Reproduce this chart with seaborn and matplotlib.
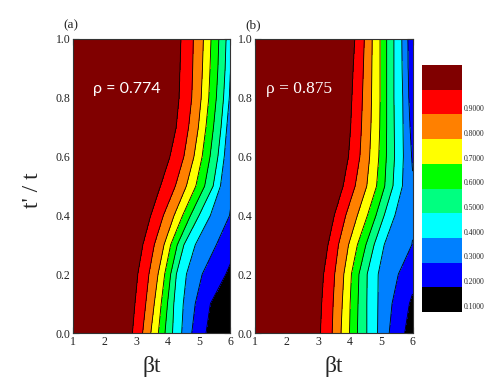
import numpy as np
import matplotlib
matplotlib.use("Agg")
import matplotlib.pyplot as plt
import seaborn as sns
from matplotlib.colors import ListedColormap, BoundaryNorm
from matplotlib.ticker import MultipleLocator

# ---------------- data ----------------
levels = [0.9, 0.8, 0.7, 0.6, 0.5, 0.4, 0.3, 0.2, 0.1]
bounds = [0.0, 0.1, 0.2, 0.3, 0.4, 0.5, 0.6, 0.7, 0.8, 0.9, 1.0]
y_rows = [0.0, 0.1, 0.2, 0.3, 0.4, 0.5, 0.6, 0.7, 0.8, 0.9, 1.0]

# panel (a): beta*t position of each contour level along the rows y_rows
a_x90 = [2.89, 2.97, 3.06, 3.22, 3.47, 3.78, 4.08, 4.28, 4.37, 4.40, 4.43]
a_x80 = [3.21, 3.31, 3.41, 3.58, 3.87, 4.25, 4.52, 4.67, 4.77, 4.80, 4.82]
a_x70 = [3.47, 3.58, 3.70, 3.89, 4.21, 4.60, 4.84, 4.98, 5.07, 5.11, 5.14]
a_x60 = [3.71, 3.80, 3.91, 4.10, 4.48, 4.90, 5.10, 5.22, 5.31, 5.35, 5.38]
a_x50 = [3.92, 4.00, 4.10, 4.31, 4.73, 5.18, 5.35, 5.46, 5.55, 5.60, 5.63]
a_x40 = [4.16, 4.20, 4.28, 4.52, 5.00, 5.45, 5.60, 5.70, 5.78, 5.83, 5.86]
a_x30 = [4.45, 4.50, 4.60, 4.88, 5.36, 5.68, 5.80, 5.88, 5.96, 6.00, 6.05]
a_x20 = [4.77, 4.88, 5.10, 5.55, 5.97, 6.10, 6.20, 6.25, 6.30, 6.35, 6.40]
a_x10 = [5.22, 5.36, 5.85, 6.25, 6.45, 6.55, 6.65, 6.70, 6.75, 6.80, 6.85]

# panel (b)
b_x90 = [3.08, 3.12, 3.18, 3.32, 3.52, 3.80, 3.97, 4.04, 4.08, 4.12, 4.17]
b_x80 = [3.45, 3.48, 3.53, 3.65, 3.88, 4.18, 4.33, 4.38, 4.41, 4.44, 4.47]
b_x70 = [3.73, 3.77, 3.82, 3.97, 4.25, 4.55, 4.64, 4.68, 4.70, 4.71, 4.72]
b_x60 = [4.00, 4.02, 4.06, 4.25, 4.57, 4.86, 4.93, 4.96, 4.97, 4.97, 4.97]
b_x50 = [4.25, 4.27, 4.30, 4.52, 4.84, 5.12, 5.17, 5.18, 5.18, 5.18, 5.18]
b_x40 = [4.55, 4.55, 4.56, 4.78, 5.10, 5.38, 5.43, 5.42, 5.41, 5.41, 5.41]
b_x30 = [4.89, 4.90, 4.91, 5.10, 5.44, 5.68, 5.71, 5.70, 5.69, 5.67, 5.66]
b_x20 = [5.26, 5.35, 5.55, 5.98, 6.10, 6.03, 5.97, 5.92, 5.88, 5.86, 5.85]
b_x10 = [5.75, 5.90, 6.20, 6.40, 6.50, 6.55, 6.60, 6.60, 6.60, 6.60, 6.60]

rho_labels = ["\u03c1 = 0.774", "\u03c1 = 0.875"]
panel_labels = ["(a)", "(b)"]
cbar_labels = ["0.9000", "0.8000", "0.7000", "0.6000", "0.5000",
               "0.4000", "0.3000", "0.2000", "0.1000"]
band_colors = ["#000000", "#0000ff", "#0080ff", "#00ffff", "#00ff80",
               "#00ff00", "#ffff00", "#ff8000", "#ff0000", "#800000"]

# ---------------- style ----------------
sns.set_style("ticks")
plt.rcParams["font.family"] = ["Liberation Serif", "DejaVu Serif"]
plt.rcParams["mathtext.fontset"] = "stix"

fig = plt.figure(figsize=(4.91, 3.92), dpi=100)
axA = fig.add_axes([73 / 491, 1 - 333 / 392, 157.5 / 491, 294 / 392])
axB = fig.add_axes([255 / 491, 1 - 333 / 392, 157.5 / 491, 294 / 392])
cax = fig.add_axes([422 / 491, 1 - 312 / 392, 40 / 491, 247 / 392])

cmap = ListedColormap(band_colors)
norm = BoundaryNorm(bounds, cmap.N)
xg = np.linspace(1.0, 6.0, 500)
yg = np.linspace(0.0, 1.0, 300)


def field(cross):
    # crossing positions on a fine row grid (piecewise linear in y)
    fine = [np.interp(yg, y_rows, c) for c in cross]
    Z = np.empty((yg.size, xg.size))
    for i in range(yg.size):
        xp = [0.0] + [f[i] for f in fine] + [8.0]
        fp = [1.0] + levels + [0.0]
        Z[i] = np.interp(xg, xp, fp)
    return Z


panels = [
    (axA, [a_x90, a_x80, a_x70, a_x60, a_x50, a_x40, a_x30, a_x20, a_x10]),
    (axB, [b_x90, b_x80, b_x70, b_x60, b_x50, b_x40, b_x30, b_x20, b_x10]),
]

for k, (ax, cross) in enumerate(panels):
    Z = field(cross)
    ax.contourf(xg, yg, Z, levels=bounds, cmap=cmap, norm=norm)
    ax.contour(xg, yg, Z, levels=sorted(levels), colors="black",
               linewidths=0.6)
    ax.set_xlim(1, 6)
    ax.set_ylim(0, 1)
    ax.xaxis.set_major_locator(MultipleLocator(1))
    ax.xaxis.set_minor_locator(MultipleLocator(0.5))
    ax.yaxis.set_major_locator(MultipleLocator(0.2))
    ax.yaxis.set_minor_locator(MultipleLocator(0.1))
    ax.yaxis.set_major_formatter(matplotlib.ticker.FormatStrFormatter("%.1f"))
    ax.tick_params(which="both", direction="in", top=True, right=True,
                   length=4, width=0.8, labelsize=8.5, pad=2,
                   color="#222222", labelcolor="#222222")
    for s in ax.spines.values():
        s.set_linewidth(0.8)
        s.set_color("#333333")
    ax.set_xlabel("\u03b2t", fontsize=17, labelpad=6)
    ax.text(-0.06, 1.025, panel_labels[k], transform=ax.transAxes,
            fontsize=9.5, ha="left", va="bottom")

axA.text(0.13, 0.83, rho_labels[0], transform=axA.transAxes, color="white",
         fontsize=11.5, family=["Lato", "DejaVu Sans"], ha="left", va="center")
axB.text(0.07, 0.83, rho_labels[1], transform=axB.transAxes, color="white",
         fontsize=12.5, family=["Liberation Serif"], ha="left", va="center")

fig.text(33 / 491, 1 - 190 / 392, "t' / t", rotation=90, fontsize=17,
         ha="center", va="center")

cb = fig.colorbar(matplotlib.cm.ScalarMappable(norm=norm, cmap=cmap),
                  cax=cax)
cb.outline.set_visible(False)
cb.set_ticks([lv - 0.075 for lv in levels])
cb.set_ticklabels(cbar_labels)
cax.minorticks_off()
cax.tick_params(which="both", length=0, pad=1, labelsize=5.5)

fig.savefig("out.png", dpi=100)
